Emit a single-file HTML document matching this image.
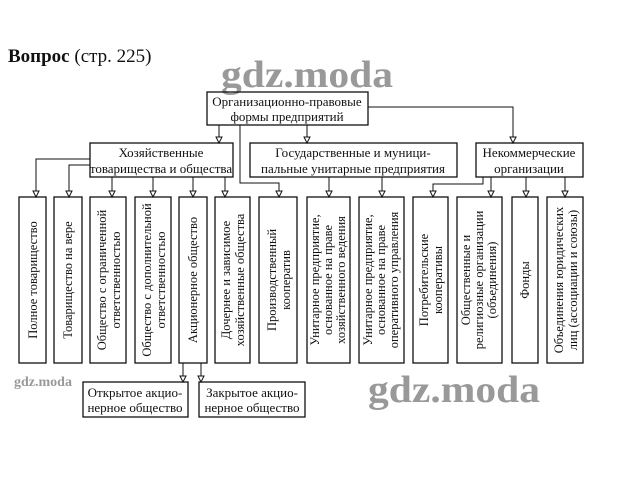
<!DOCTYPE html>
<html><head><meta charset="utf-8"><style>
html,body{margin:0;padding:0;background:#fff;}
svg{display:block;}
text{font-family:"Liberation Serif",serif;fill:#111;}
</style></head><body>
<svg width="621" height="484" viewBox="0 0 621 484" xmlns="http://www.w3.org/2000/svg">
<defs>
<marker id="a" markerWidth="8" markerHeight="8" refX="7" refY="4" orient="auto" markerUnits="userSpaceOnUse">
<path d="M1,1 L1,7 L7,4 Z" fill="#fff" stroke="#111" stroke-width="1"/>
</marker>
</defs>
<text x="8" y="62" font-size="19"><tspan font-weight="bold">Вопрос</tspan> (стр. 225)</text>
<text x="221" y="87" font-size="38" font-weight="bold" style="fill:#999" textLength="172" lengthAdjust="spacingAndGlyphs">gdz.moda</text>
<text x="368" y="402" font-size="38" font-weight="bold" style="fill:#999" textLength="172" lengthAdjust="spacingAndGlyphs">gdz.moda</text>
<text x="14" y="386" font-size="14" font-weight="bold" style="fill:#999">gdz.moda</text>

<g fill="none" stroke="#111" stroke-width="1.3">
<rect x="207" y="92" width="161" height="33"/>
<rect x="90" y="143" width="143" height="34"/>
<rect x="250" y="143" width="207" height="34"/>
<rect x="476" y="143" width="107" height="34"/>
<rect x="19" y="197" width="27" height="166"/>
<rect x="54" y="197" width="28" height="166"/>
<rect x="90" y="197" width="36" height="166"/>
<rect x="135" y="197" width="36" height="166"/>
<rect x="179" y="197" width="28" height="166"/>
<rect x="215" y="197" width="35" height="166"/>
<rect x="259" y="197" width="38" height="166"/>
<rect x="307" y="197" width="43" height="166"/>
<rect x="359" y="197" width="45" height="166"/>
<rect x="413" y="197" width="35" height="166"/>
<rect x="457" y="197" width="45" height="166"/>
<rect x="512" y="197" width="26" height="166"/>
<rect x="547" y="197" width="36" height="166"/>
<rect x="83" y="382" width="105" height="35"/>
<rect x="199" y="382" width="106" height="35"/>
</g>
<g fill="none" stroke="#111" stroke-width="1" marker-end="url(#a)">
<path d="M219,125 V143"/>
<path d="M307,125 V143"/>
<path d="M368,107 H513 V143"/>
<path d="M240,125 V183 H279 V197"/>
<path d="M90,159 H36 V197"/>
<path d="M90,165 H69 V197"/>
<path d="M112,177 V197"/>
<path d="M153,177 V197"/>
<path d="M193,177 V197"/>
<path d="M225,177 V197"/>
<path d="M329,177 V197"/>
<path d="M382,177 V197"/>
<path d="M483,177 V184 H433 V197"/>
<path d="M491,177 V197"/>
<path d="M526,177 V197"/>
<path d="M565,177 V197"/>
<path d="M183,363 V382"/>
<path d="M201,363 V382"/>
</g>

<g font-size="13" text-anchor="middle">
<text x="287" y="106">Организационно-правовые</text>
<text x="287" y="121">формы предприятий</text>
<text x="161" y="157">Хозяйственные</text>
<text x="161" y="173">товарищества и общества</text>
<text x="353" y="157">Государственные и муници-</text>
<text x="353" y="173">пальные унитарные предприятия</text>
<text x="529" y="157">Некоммерческие</text>
<text x="529" y="173">организации</text>
<text x="135" y="397">Открытое акцио-</text>
<text x="135" y="412">нерное общество</text>
<text x="252" y="397">Закрытое акцио-</text>
<text x="252" y="412">нерное общество</text>
</g>

<g font-size="12.5" text-anchor="middle">
<text transform="translate(37,280) rotate(-90)">Полное товарищество</text>
<text transform="translate(72,280) rotate(-90)">Товарищество на вере</text>
<text transform="translate(108,280) rotate(-90)"><tspan x="0" y="-2">Общество с ограниченной</tspan><tspan x="0" y="12">ответственностью</tspan></text>
<text transform="translate(153,280) rotate(-90)"><tspan x="0" y="-2">Общество с дополнительной</tspan><tspan x="0" y="12">ответственностью</tspan></text>
<text transform="translate(197,280) rotate(-90)">Акционерное общество</text>
<text transform="translate(232,280) rotate(-90)"><tspan x="0" y="-2">Дочернее и зависимое</tspan><tspan x="0" y="12">хозяйственные общества</tspan></text>
<text transform="translate(278,280) rotate(-90)"><tspan x="0" y="-2">Производственный</tspan><tspan x="0" y="12">кооператив</tspan></text>
<text transform="translate(328,280) rotate(-90)"><tspan x="0" y="-9">Унитарное предприятие,</tspan><tspan x="0" y="4">основанное на праве</tspan><tspan x="0" y="17">хозяйственного ведения</tspan></text>
<text transform="translate(381,280) rotate(-90)"><tspan x="0" y="-9">Унитарное предприятие,</tspan><tspan x="0" y="4">основанное на праве</tspan><tspan x="0" y="17">оперативного управления</tspan></text>
<text transform="translate(430,280) rotate(-90)"><tspan x="0" y="-2">Потребительские</tspan><tspan x="0" y="12">кооперативы</tspan></text>
<text transform="translate(479,280) rotate(-90)"><tspan x="0" y="-9">Общественные и</tspan><tspan x="0" y="4">религиозные организации</tspan><tspan x="0" y="17">(объединения)</tspan></text>
<text transform="translate(529,280) rotate(-90)">Фонды</text>
<text transform="translate(565,280) rotate(-90)"><tspan x="0" y="-2">Объединения юридических</tspan><tspan x="0" y="12">лиц (ассоциации и союзы)</tspan></text>
</g>
</svg>
</body></html>
